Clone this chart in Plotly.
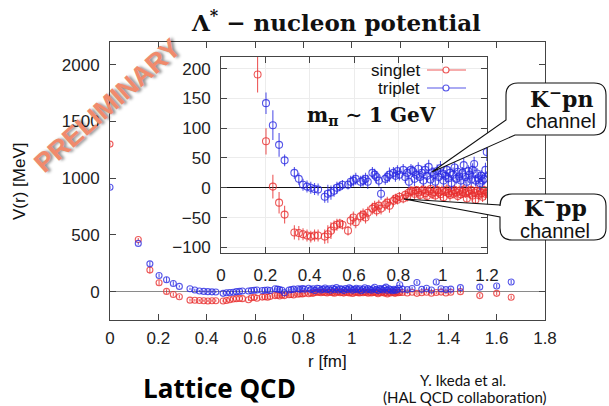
import plotly.graph_objects as go

# ---------------------------------------------------------------- data
# separation r [fm] (shared by both channels)
R_CORE = [0.000, 0.117, 0.165, 0.203, 0.234, 0.262, 0.287, 0.331, 0.351, 0.370,
          0.388, 0.405, 0.422, 0.438, 0.468, 0.482, 0.496, 0.510, 0.523, 0.536,
          0.548, 0.573, 0.585, 0.597, 0.608, 0.630, 0.641, 0.652, 0.662, 0.683,
          0.693, 0.702, 0.712, 0.722, 0.741, 0.750, 0.760, 0.778, 0.787, 0.796,
          0.805, 0.822, 0.831, 0.840, 0.848, 0.857]
R_MID = [0.865, 0.873, 0.881, 0.890, 0.898, 0.906, 0.913, 0.921, 0.929, 0.937,
         0.945, 0.952, 0.960, 0.967, 0.975, 0.982, 0.990, 0.997, 1.004, 1.012,
         1.019, 1.026, 1.033, 1.040, 1.047, 1.054, 1.061, 1.068, 1.075, 1.082,
         1.089, 1.095, 1.102, 1.109, 1.116, 1.122, 1.129, 1.135, 1.142, 1.148,
         1.155, 1.161, 1.168, 1.174, 1.180, 1.187, 1.193, 1.199]
R_TAIL = [1.21, 1.23, 1.25, 1.27, 1.29, 1.31, 1.33, 1.35, 1.37, 1.39,
          1.41, 1.45, 1.53, 1.60, 1.66]

# singlet channel V(r) [MeV] and errors
V_SINGLET_CORE = [1300, 460, 190, 78, 2, -25, -45, -75, -76, -78,
                  -80, -82, -80, -80, -82, -78, -72, -65, -62, -60,
                  -62, -72, -55, -50, -58, -48, -45, -50, -42, -35,
                  -32, -38, -30, -35, -28, -25, -30, -22, -18, -20,
                  -15, -18, -12, -15, -8, -5]
V_SINGLET_MID = [-6, -10, -4, -8, -12, -5, -3, -9, -14, -6,
                 -2, -10, -7, -13, -4, -8, -11, -5, -16, -7,
                 -3, -9, -12, -6, -10, -4, -8, -14, -5, -11,
                 -7, -3, -9, -18, -6, -10, -4, -13, -8, -20,
                 -5, -12, -6, -9, -15, -4, -10, -8]
V_SINGLET_TAIL = [-8, -12, -5, -15, -10, -6, -14, -8, -4, -12,
                  -6, 0, -35, -15, -50]
E_SINGLET_CORE = [15, 12, 30, 22, 20, 18, 15, 12, 12, 10,
                  10, 10, 10, 10, 12, 15, 14, 10, 10, 8,
                  8, 8, 10, 10, 10, 10, 10, 10, 10, 10,
                  10, 10, 10, 10, 10, 10, 12, 10, 8, 8,
                  8, 8, 8, 8, 8, 8]
E_SINGLET_MID = [8, 9, 7, 10, 8, 9, 8, 10, 9, 8,
                 7, 9, 10, 8, 9, 8, 10, 9, 8, 7,
                 9, 8, 10, 9, 8, 9, 10, 8, 9, 8,
                 10, 9, 8, 9, 10, 8, 9, 10, 8, 9,
                 10, 9, 8, 10, 9, 8, 10, 9]
E_SINGLET_TAIL = [10, 12, 10, 14, 12, 10, 12, 14, 12, 12,
                  14, 15, 15, 16, 16]

# triplet channel V(r) [MeV] and errors
V_TRIPLET_CORE = [920, 425, 245, 142, 105, 72, 46, 25, 15, 5,
                  2, 0, -2, -3, -15, -10, -8, -5, 0, 2,
                  5, 5, 10, 12, 15, 10, 12, 15, 10, 25,
                  22, 18, 12, -10, 15, 18, 22, 25, 20, 28,
                  22, 30, 18, 25, 10, 30]
V_TRIPLET_MID = [28, 15, 22, 32, 18, 25, 12, 30, 20, 35,
                 14, 26, 22, 10, 28, 18, 33, 24, 12, 20,
                 30, 16, 25, 8, 22, 34, 15, 27, 19, 12,
                 25, 38, 18, 10, 28, 22, 14, 30, 40, 12,
                 24, 16, 8, 20, 12, 15, 30, 60]
V_TRIPLET_TAIL = [22, 18, 28, 80, 20, 30, 15, 85, 25, 18,
                  22, 35, 40, 50, 85]
E_TRIPLET_CORE = [15, 12, 20, 18, 25, 20, 10, 10, 10, 10,
                  10, 10, 10, 10, 10, 15, 12, 10, 10, 8,
                  8, 8, 10, 10, 10, 10, 10, 10, 12, 10,
                  10, 10, 10, 10, 10, 10, 12, 10, 10, 10,
                  10, 10, 10, 10, 10, 10]
E_TRIPLET_MID = [10, 12, 9, 11, 10, 12, 9, 10, 11, 12,
                 10, 9, 12, 10, 11, 9, 12, 10, 11, 10,
                 12, 9, 10, 11, 12, 10, 9, 11, 10, 12,
                 10, 12, 11, 9, 10, 12, 10, 11, 12, 10,
                 9, 11, 12, 10, 11, 10, 12, 15]
E_TRIPLET_TAIL = [12, 12, 14, 16, 12, 14, 12, 18, 14, 12,
                  14, 16, 16, 18, 18]

R = R_CORE + R_MID + R_TAIL
V_SINGLET = V_SINGLET_CORE + V_SINGLET_MID + V_SINGLET_TAIL
E_SINGLET = E_SINGLET_CORE + E_SINGLET_MID + E_SINGLET_TAIL
V_TRIPLET = V_TRIPLET_CORE + V_TRIPLET_MID + V_TRIPLET_TAIL
E_TRIPLET = E_TRIPLET_CORE + E_TRIPLET_MID + E_TRIPLET_TAIL
assert len(R) == len(V_SINGLET) == len(E_SINGLET) == len(V_TRIPLET) == len(E_TRIPLET)

MAIN_XTICKS = [0, 0.2, 0.4, 0.6, 0.8, 1.0, 1.2, 1.4, 1.6, 1.8]
MAIN_XLABELS = ["0", "0.2", "0.4", "0.6", "0.8", "1", "1.2", "1.4", "1.6", "1.8"]
MAIN_YTICKS = [0, 500, 1000, 1500, 2000]
INSET_XTICKS = [0, 0.2, 0.4, 0.6, 0.8, 1.0, 1.2]
INSET_XLABELS = ["0", "0.2", "0.4", "0.6", "0.8", "1", "1.2"]
INSET_YTICKS = [-100, -50, 0, 50, 100, 150, 200]

# ---------------------------------------------------------------- styling
W, H = 609, 406
ML, MR, MT, MB = 110, 64, 42, 86
PW, PH = W - ML - MR, H - MT - MB

RED = "rgba(232,45,45,0.78)"
BLUE = "rgba(40,40,225,0.78)"
SANS = "Liberation Sans, Arial, sans-serif"
SERIF = "DejaVu Serif, serif"


def px(x):
    """pixel column -> paper x"""
    return (x - ML) / PW


def py(y):
    """pixel row -> paper y"""
    return (MT + PH - y) / PH


def path_from(points):
    parts = []
    for cmd, *pts in points:
        coords = " ".join(f"{px(a):.5f},{py(b):.5f}" for a, b in pts)
        parts.append(f"{cmd} {coords}" if coords else cmd)
    return " ".join(parts)


def series(xa, ya, v, e, color, size):
    return go.Scatter(
        x=R, y=v, xaxis=xa, yaxis=ya, mode="markers",
        marker=dict(symbol="circle-open", size=size, color=color,
                    line=dict(width=1.1, color=color)),
        error_y=dict(type="data", array=e, visible=True, thickness=1.1,
                     width=0, color=color),
        showlegend=False, hoverinfo="skip",
    )


fig = go.Figure()
fig.add_trace(series("x", "y", V_SINGLET, E_SINGLET, RED, 6))
fig.add_trace(series("x", "y", V_TRIPLET, E_TRIPLET, BLUE, 6))
fig.add_trace(series("x2", "y2", V_SINGLET, E_SINGLET, RED, 7))
fig.add_trace(series("x2", "y2", V_TRIPLET, E_TRIPLET, BLUE, 7))

tickfont = dict(family=SANS, size=17, color="#222")
frame = dict(showline=True, linecolor="#444", linewidth=1, mirror="allticks",
             ticks="inside", ticklen=6, tickcolor="#444", tickfont=tickfont,
             showgrid=False)

fig.update_layout(
    width=W, height=H, margin=dict(l=ML, r=MR, t=MT, b=MB),
    paper_bgcolor="white", plot_bgcolor="white",
    xaxis=dict(range=[0, 1.8], tickvals=MAIN_XTICKS, ticktext=MAIN_XLABELS,
               zeroline=False, ticklabelstandoff=3, **frame),
    yaxis=dict(range=[-250, 2200], tickvals=MAIN_YTICKS, zeroline=True,
               zerolinecolor="#8a8a8a", zerolinewidth=1, ticklabelstandoff=6,
               **frame),
    xaxis2=dict(domain=[px(221), px(487)], anchor="y2", range=[0, 1.2],
                tickvals=INSET_XTICKS, ticktext=INSET_XLABELS, zeroline=False,
                ticklabelstandoff=6,
                **{**frame, "showgrid": True, "gridcolor": "#ececec"}),
    yaxis2=dict(domain=[py(253.3), py(56.7)], anchor="x2", range=[-110, 220],
                tickvals=INSET_YTICKS, zeroline=True, zerolinecolor="#111",
                zerolinewidth=1, ticklabelstandoff=6,
                **{**frame, "showgrid": True, "gridcolor": "#ececec"}),
)


def note(text, x, y, size, family=SANS, color="#111", xanchor="center", **kw):
    fig.add_annotation(text=text, x=px(x), y=py(y), xref="paper", yref="paper",
                       xanchor=xanchor, yanchor="middle", showarrow=False,
                       borderpad=0,
                       font=dict(family=family, size=size, color=color), **kw)


# titles and labels
note("<b>Λ<sup>*</sup> − nucleon potential</b>", 336, 21, 23, SERIF)
note("V(r) [MeV]", 19, 182, 17, textangle=-90)
note("r [fm]", 327, 361, 17)
note("<b>Lattice QCD</b>", 219, 388, 26, "Open Sans, sans-serif", color="#000")
note("Y. Ikeda et al.", 463, 380, 15, "Lato, sans-serif")
note("(HAL QCD collaboration)", 465, 397, 15, "Lato, sans-serif")
note("<b>m<sub>π</sub> ∼ 1 GeV</b>", 371, 116, 20, SERIF)

# watermark
fig.add_annotation(text="<b>PRELIMINARY</b>", x=px(107), y=py(106), xref="paper",
                   yref="paper", xanchor="center", yanchor="middle",
                   showarrow=False, textangle=-41.7,
                   font=dict(family=SANS, size=27, color="#f08a6c",
                             shadow="2px 2px 3px rgba(0,0,0,0.45)"))

# inset key
for label, color, ypix in (("singlet", RED, 70), ("triplet", BLUE, 88)):
    note(label, 421, ypix, 17, xanchor="right")
    fig.add_shape(type="line", xref="paper", yref="paper",
                  x0=px(427), x1=px(466), y0=py(ypix), y1=py(ypix),
                  line=dict(color=color, width=1.1))
    fig.add_shape(type="circle", xref="paper", yref="paper",
                  x0=px(443), x1=px(449), y0=py(ypix + 3), y1=py(ypix - 3),
                  line=dict(color=color, width=1.1), fillcolor="white")

# callout balloons
rad = 12
L, Rt, T, B = 506, 606, 83, 135
balloon1 = [("M", (L + rad, T)), ("L", (Rt - rad, T)), ("Q", (Rt, T), (Rt, T + rad)),
            ("L", (Rt, B - rad)), ("Q", (Rt, B), (Rt - rad, B)), ("L", (515, B)),
            ("L", (432, 172)), ("L", (L, 120)), ("L", (L, T + rad)),
            ("Q", (L, T), (L + rad, T)), ("Z",)]
L, Rt, T, B = 500, 606, 194, 240
balloon2 = [("M", (L + rad, T)), ("L", (Rt - rad, T)), ("Q", (Rt, T), (Rt, T + rad)),
            ("L", (Rt, B - rad)), ("Q", (Rt, B), (Rt - rad, B)), ("L", (L + rad, B)),
            ("Q", (L, B), (L, B - rad)), ("L", (L, 217)), ("L", (404, 199)),
            ("L", (L, 205)), ("L", (L, T + rad)), ("Q", (L, T), (L + rad, T)), ("Z",)]
for pts in (balloon1, balloon2):
    fig.add_shape(type="path", xref="paper", yref="paper", path=path_from(pts),
                  line=dict(color="#111", width=1.1), fillcolor="white", layer="above")

note("<b>K<sup>−</sup>pn</b>", 561, 98, 22, SERIF)
note("channel", 561, 121, 20)
note("<b>K<sup>−</sup>pp</b>", 555, 207, 22, SERIF)
note("channel", 555, 231, 20)

fig.write_html("out.html")
